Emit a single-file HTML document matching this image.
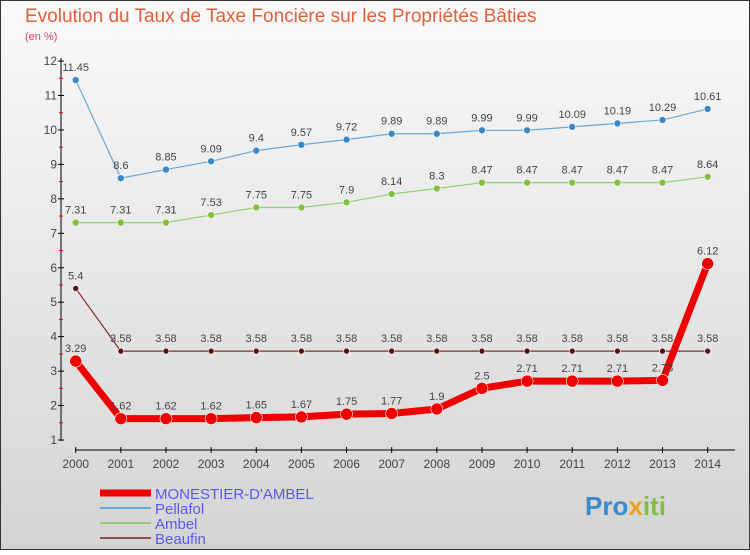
<!DOCTYPE html>
<html><head><meta charset="utf-8"><style>
body{margin:0}
svg text{font-family:"Liberation Sans",sans-serif}
</style></head><body>
<svg width="750" height="550" xmlns="http://www.w3.org/2000/svg">
<defs><linearGradient id="bg" x1="0" y1="0" x2="0" y2="1"><stop offset="0" stop-color="#fafafa"/><stop offset="1" stop-color="#d4d4d4"/></linearGradient></defs>
<rect x="0.5" y="0.5" width="749" height="549" fill="url(#bg)" stroke="#333"/>
<text x="25" y="22" font-size="19" fill="#e0603a">Evolution du Taux de Taxe Foncière sur les Propriétés Bâties</text>
<text x="25" y="40" font-size="11" fill="#e04060">(en %)</text>
<g id="axes"></g><g id="series"></g>
<g id="legend"></g>
<text x="585" y="515" font-size="26" font-weight="bold" fill="#3a8ad0">Pro<tspan fill="#f0a020">x</tspan><tspan fill="#80c040">iti</tspan></text>
</svg>
<script>
const years=[2000,2001,2002,2003,2004,2005,2006,2007,2008,2009,2010,2011,2012,2013,2014];
const monestier=[3.29,1.62,1.62,1.62,1.65,1.67,1.75,1.77,1.9,2.5,2.71,2.71,2.71,2.73,6.12];
const pellafol=[11.45,8.6,8.85,9.09,9.4,9.57,9.72,9.89,9.89,9.99,9.99,10.09,10.19,10.29,10.61];
const ambel=[7.31,7.31,7.31,7.53,7.75,7.75,7.9,8.14,8.3,8.47,8.47,8.47,8.47,8.47,8.64];
const beaufin=[5.4,3.58,3.58,3.58,3.58,3.58,3.58,3.58,3.58,3.58,3.58,3.58,3.58,3.58,3.58];
const yTicks=[1,2,3,4,5,6,7,8,9,10,11,12];
const NS="http://www.w3.org/2000/svg";
const x=i=>75.7+i*45.14, y=v=>440-(v-1)*34.45;
function mk(t,a,p){const e=document.createElementNS(NS,t);for(const k in a)e.setAttribute(k,a[k]);p.appendChild(e);return e;}
const ax=document.getElementById('axes');
let e=mk('line',{x1:61,y1:58,x2:61,y2:441,stroke:'#000'},ax);


e=mk('line',{x1:75,y1:450,x2:735,y2:450,stroke:'#000'},ax);


yTicks.forEach(v=>{
 mk('line',{x1:58,y1:y(v),x2:64,y2:y(v),stroke:'#000'},ax);
 if(v<12)mk('line',{x1:59,y1:y(v+0.5),x2:63,y2:y(v+0.5),stroke:'#e00'},ax);
 const t=mk('text',{x:57,y:y(v)+4,'font-size':12,fill:'#444','text-anchor':'end'},ax);t.textContent=v;
 
 
});
years.forEach((yr,i)=>{
 mk('line',{x1:x(i),y1:447,x2:x(i),y2:453,stroke:'#000'},ax);
 const t=mk('text',{x:x(i),y:468,'font-size':12,fill:'#444','text-anchor':'middle'},ax);t.textContent=yr;
 
 
});
const sg=document.getElementById('series');
function series(d,name,col,w,r,mcol){
 const g=mk('g',{},sg);
 
 
 mk('polyline',{points:d.map((v,i)=>x(i)+','+y(v)).join(' '),fill:'none',stroke:col,'stroke-width':w,'stroke-linejoin':'round'},g);
 d.forEach((v,i)=>{
  const c=mk('circle',{cx:x(i),cy:y(v),r:r,fill:mcol,stroke:'#fff','stroke-width':0.6},g);
  
  
  const t=mk('text',{x:x(i),y:y(v)-9,'font-size':11,fill:'#444','text-anchor':'middle'},g);t.textContent=v;
  
  
 });
}
series(beaufin,'beaufin','#7a3030',1.2,3,'#5a1010');
series(ambel,'ambel','#90d070',1.2,3.5,'#80c040');
series(pellafol,'pellafol','#6aa8d8',1.2,3.5,'#3a88c8');
series(monestier,'monestier','#ee0000',7,6,'#ee0000');
const lg=document.getElementById('legend');
[['MONESTIER-D\'AMBEL','#ee0000',7],['Pellafol','#6aa8d8',2],['Ambel','#90d070',2],['Beaufin','#8a5050',2]].forEach((s,i)=>{
 const g=mk('g',{},lg);
 
 
 mk('line',{x1:100,y1:493+i*15,x2:151,y2:493+i*15,stroke:s[1],'stroke-width':s[2]},g);
 const t=mk('text',{x:155,y:499+i*15,'font-size':15,fill:'#5a5af0'},g);t.textContent=s[0];
});
</script>
</body></html>
